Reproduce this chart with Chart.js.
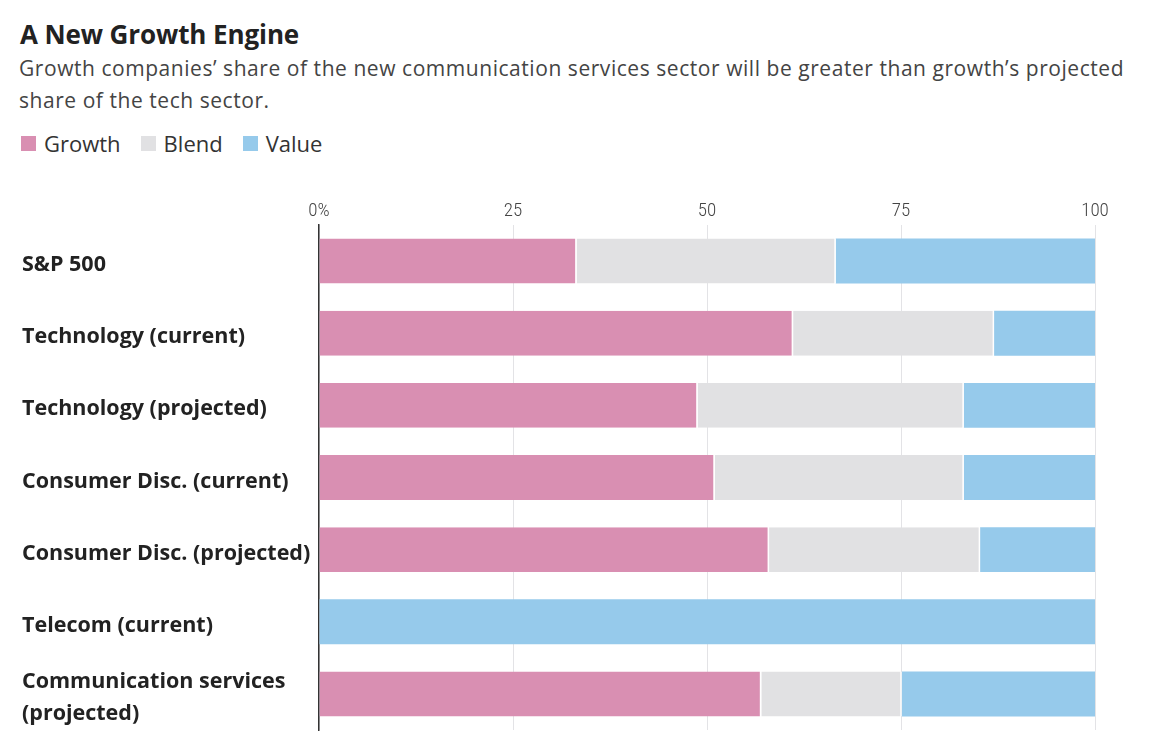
<!DOCTYPE html>
<html>
<head>
<meta charset="utf-8">
<script src="https://cdn.jsdelivr.net/npm/chart.js@4.4.1/dist/chart.umd.min.js"></script>
<style>
  html, body { margin: 0; padding: 0; background: #fff; width: 1153px; height: 755px; overflow: hidden; }
  #title { position: absolute; left: 20px; top: 16px; font: 700 26px "Open Sans", sans-serif; color: #222; letter-spacing: -0.1px; }
  #sub { position: absolute; left: 19px; top: 52px; width: 1125px; font: 400 21px/32px "Open Sans", sans-serif; color: #444; letter-spacing: 0.55px; }
  #legend { position: absolute; left: 21px; top: 128px; font: 400 22px "Open Sans", sans-serif; color: #333; display: flex; }
  .li { display: flex; align-items: center; margin-right: 20px; }
  .sw { width: 15px; height: 15px; margin-right: 8px; display: inline-block; }
  #wrap { position: absolute; left: 0; top: 190px; width: 1153px; height: 565px; }
</style>
</head>
<body>
<div id="title">A New Growth Engine</div>
<div id="sub">Growth companies’ share of the new communication services sector will be greater than growth’s projected share of the tech sector.</div>
<div id="legend"></div>
<div id="wrap"><canvas id="c"></canvas></div>
<script>
const categories = [
  "S&P 500",
  "Technology (current)",
  "Technology (projected)",
  "Consumer Disc. (current)",
  "Consumer Disc. (projected)",
  "Telecom (current)",
  ["Communication services", "(projected)"]
];
const seriesNames = ["Growth", "Blend", "Value"];
const growth = [33.2, 61.1, 48.8, 51.0, 58.0, 0, 57.0];
const blend  = [33.4, 25.9, 34.3, 32.1, 27.2, 0, 18.1];
const value  = [33.4, 13.0, 16.9, 16.9, 14.8, 100, 24.9];
const colors = ["#d98fb2", "#e1e1e3", "#96caeb"];
const tickLabels = {0: "0%", 25: "25", 50: "50", 75: "75", 100: "100"};

const leg = document.getElementById('legend');
seriesNames.forEach((n, i) => {
  const d = document.createElement('span'); d.className = 'li';
  d.innerHTML = '<span class="sw" style="background:' + colors[i] + '"></span>' + n;
  leg.appendChild(d);
});

const seriesData = [growth, blend, value];
new Chart(document.getElementById('c'), {
  type: 'bar',
  data: {
    labels: categories,
    datasets: seriesNames.map((n, i) => ({
      label: n,
      data: seriesData[i],
      backgroundColor: colors[i],
      borderColor: '#ffffff',
      borderWidth: {left: 0, right: i < 2 ? 1.5 : 0, top: 0, bottom: 0},
      borderSkipped: false,
      barPercentage: 0.623,
      categoryPercentage: 1.0
    }))
  },
  options: {
    indexAxis: 'y',
    responsive: true,
    maintainAspectRatio: false,
    animation: false,
    layout: { padding: { left: 22, right: 58, top: 0, bottom: 25 } },
    plugins: { legend: { display: false }, tooltip: { enabled: false } },
    scales: {
      x: {
        position: 'top',
        stacked: true,
        min: 0, max: 100,
        afterFit: s => { s.height = 35; },
        ticks: {
          stepSize: 25,
          padding: 2,
          color: '#444',
          font: { family: '"Liberation Sans Narrow", "Roboto Condensed", Roboto, sans-serif', size: 19, weight: 300 },
          callback: v => tickLabels[v] !== undefined ? tickLabels[v] : ''
        },
        grid: { color: '#e3e3e6', lineWidth: 1, drawTicks: false },
        border: { display: false }
      },
      y: {
        stacked: true,
        afterFit: s => { s.width = 297; },
        ticks: {
          crossAlign: 'far',
          padding: 0,
          labelOffset: 4,
          color: '#222',
          font: { family: '"Open Sans", sans-serif', size: 21.5, weight: 700, lineHeight: 1.45 }
        },
        grid: { display: false, drawTicks: false },
        border: { display: true, color: '#333', width: 1.5 }
      }
    }
  }
});
</script>
</body>
</html>
